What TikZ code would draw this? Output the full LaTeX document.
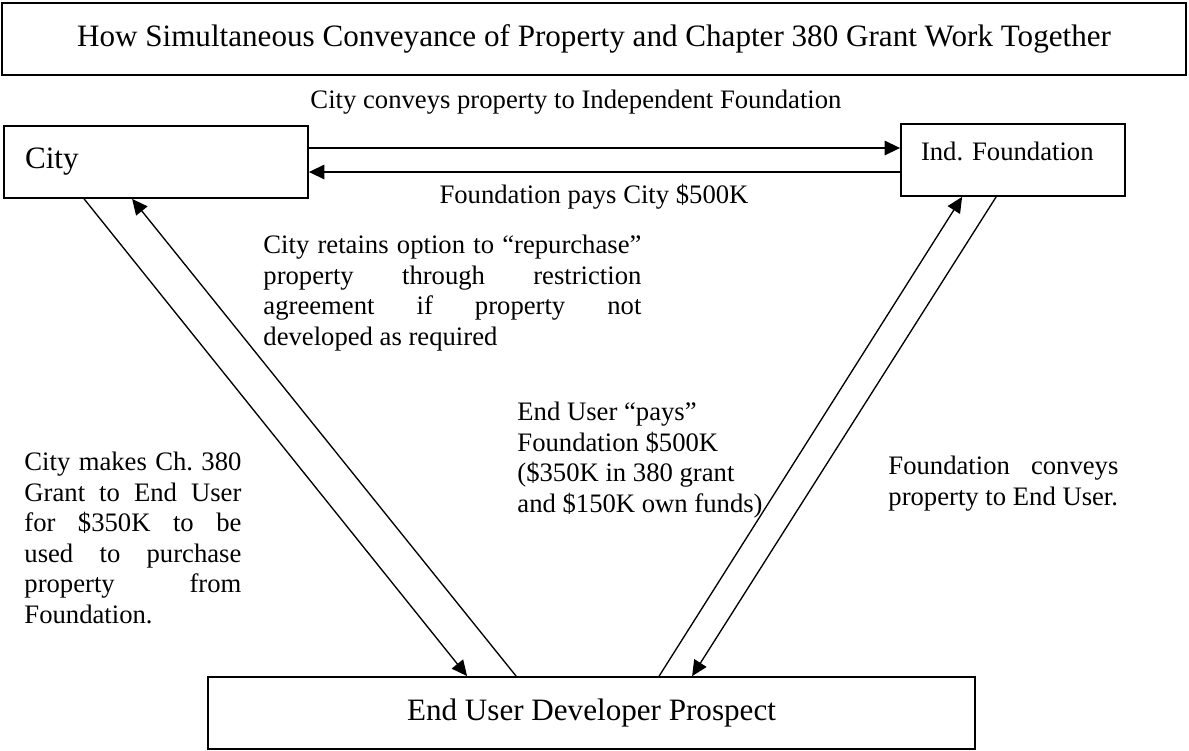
\documentclass[tikz,border=0pt]{standalone}
\usepackage{fontspec}
\setmainfont{Liberation Serif}
\usetikzlibrary{arrows.meta,calc}
\frenchspacing

\begin{document}
\begin{tikzpicture}[x=0.45pt,y=-0.45pt,
  box/.style={rectangle,draw,line width=0.8pt,inner sep=0pt,minimum width=#1*0.45pt,minimum height=32.4pt},
  big/.style={font=\fontsize{14}{16}\selectfont},
  note/.style={font=\fontsize{12}{13.7}\selectfont,inner sep=0pt},
  para/.style={note,anchor=north west,text width=#1*0.45pt,align=justify},
  flow/.style={-{Triangle[length=7pt,width=6.5pt]},line width=0.8pt},
  slant/.style={-{Triangle[length=7pt,width=6.5pt]},line width=0.6pt},
]
\useasboundingbox (0,0) rectangle (1189,750);

% Title
\node[box=1184,big] (title) at (594,39) {How Simultaneous Conveyance of Property and Chapter 380 Grant Work Together};

% Parties
\node[box=304,big,inner xsep=9.45pt,text width=262*0.45pt,align=left] (city) at (156,162) {City};
\node[box=224,note,inner xsep=9pt,text width=184*0.45pt,align=left,text height=9pt,text depth=9pt] (found) at (1013,160) {Ind. Foundation};
\node[box=767,big] (eu) at (591.5,713) {End User Developer Prospect};

% City <-> Foundation
\coordinate (hi) at (0,148);
\coordinate (lo) at (0,172);
\draw[flow] (city.east |- hi) -- (found.west |- hi);
\draw[flow] (found.west |- lo) -- (city.east |- lo);
\node[note,anchor=base] (conveys) at (576,108) {City conveys property to Independent Foundation};
\node[note,anchor=base] (pays) at (594,203) {Foundation pays City \$500K};

% City <-> End User
\draw[slant] ($(city.south west)+(81,0)$) -- ($(eu.north west)+(260,0)$);
\draw[slant] ($(eu.north west)+(309,0)$) -- ($(city.south west)+(129,0)$);

% End User <-> Foundation
\draw[slant] ($(eu.north west)+(452,0)$) -- ($(found.south west)+(62,0)$);
\draw[slant] ($(found.south west)+(96,0)$) -- ($(eu.north west)+(485,0)$);

% Notes
\node[para=378] (retain) at (263,235) {City retains option to “repurchase” \linebreak property through restriction \linebreak agreement if property not \linebreak developed as required};
\node[para=217] (grant) at (24,452) {City makes Ch. 380 \linebreak Grant to End User \linebreak for \$350K to be \linebreak used to purchase \linebreak property from \linebreak Foundation.};
\node[note,anchor=north west,align=left] (userpays) at (517,402) {End User “pays”\\Foundation \$500K\\(\$350K in 380 grant\\and \$150K own funds)};
\node[para=230] (deliver) at (888,456) {Foundation conveys \linebreak property to End User.};

\end{tikzpicture}
\end{document}
